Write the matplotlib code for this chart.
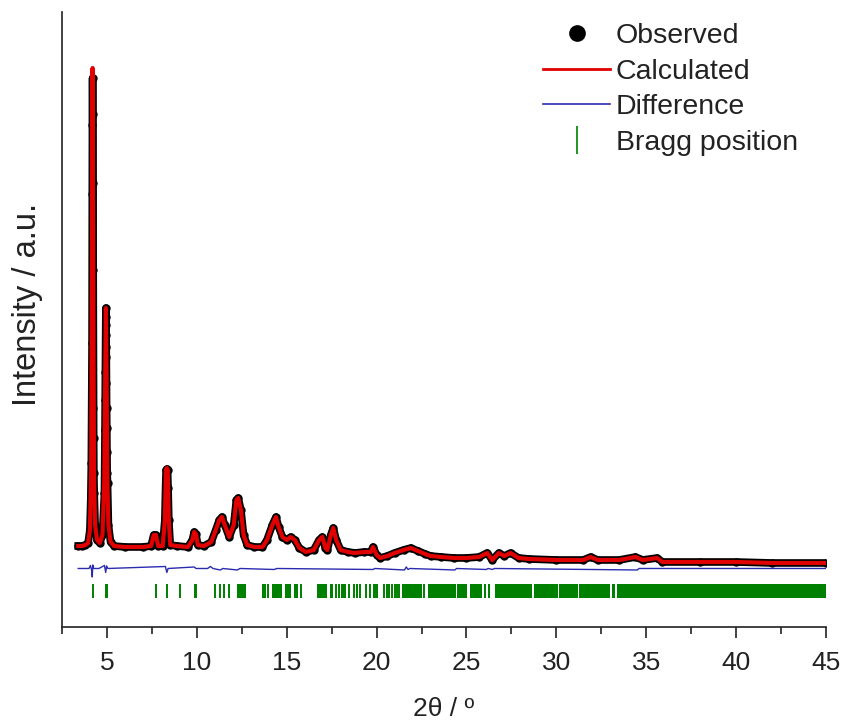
import matplotlib
matplotlib.use("Agg")
import matplotlib.pyplot as plt
from matplotlib.lines import Line2D

plt.rcParams['font.family'] = ['Liberation Sans', 'DejaVu Sans']

# ---- calculated profile (2theta, intensity a.u.) ----
calc_2theta = [3.40, 3.60, 3.80, 3.95, 4.05, 4.12, 4.16, 4.20, 4.24, 4.28, 4.34, 4.45, 4.60,
               4.75, 4.85, 4.90, 4.94, 4.98, 5.02, 5.08, 5.20, 5.40, 6.00, 7.00, 7.45, 7.60,
               7.72, 7.85, 8.10, 8.22, 8.28, 8.33, 8.38, 8.44, 8.52, 8.90, 9.50, 9.75, 9.85,
               9.95, 10.05, 10.40, 10.80, 11.05, 11.25, 11.40, 11.55, 11.80, 12.05, 12.20,
               12.30, 12.45, 12.60, 12.80, 13.20, 13.65, 13.90, 14.20, 14.40, 14.55, 14.76,
               15.00, 15.22, 15.45, 15.70, 16.06, 16.50, 16.80, 16.98, 17.15, 17.26, 17.45,
               17.59, 17.75, 18.00, 18.40, 18.80, 19.30, 19.67, 19.80, 20.00, 20.20, 20.60,
               21.00, 21.50, 21.90, 22.30, 22.70, 23.00, 23.60, 24.30, 25.00, 25.70, 26.15,
               26.43, 26.80, 27.10, 27.45, 27.90, 28.50, 30.00, 31.50, 31.90, 32.30, 33.50,
               34.40, 34.80, 35.60, 35.90, 38.00, 40.00, 42.00, 45.00]
calc_int = [1040, 1040, 1060, 1100, 1360, 2560, 5960, 10600, 5960, 2360, 1460, 1160, 1100,
            1260, 2360, 4360, 5800, 4360, 2360, 1460, 1120, 1040, 1020, 1020, 1040, 1260,
            1260, 1040, 1040, 1560, 2560, 2600, 2560, 1560, 1060, 1040, 1020, 1160, 1320,
            1280, 1060, 1040, 1120, 1360, 1560, 1620, 1460, 1220, 1460, 1960,
            2000, 1760, 1260, 1060, 1020, 1020, 1160, 1460, 1620, 1420, 1220,
            1160, 1220, 1160, 1000, 920, 960, 1160, 1220, 1000, 960, 1260,
            1400, 1160, 960, 920, 900, 920, 920, 1020, 860, 800, 840,
            900, 960, 1000, 940, 880, 840, 820, 800, 800, 820, 900,
            760, 900, 840, 900, 800, 780, 760, 760, 820, 760, 760,
            820, 760, 800, 720, 720, 720, 700, 700]

# ---- observed points (2theta, intensity a.u.) ----
obs_2theta = [3.40, 3.60, 3.80, 3.95, 4.05, 4.10, 4.13, 4.15, 4.17, 4.18, 4.19, 4.20, 4.21,
              4.22, 4.23, 4.25, 4.26, 4.27, 4.29, 4.34, 4.45, 4.60, 4.75, 4.86, 4.875, 4.89,
              4.90, 4.91, 4.92, 4.93, 4.94, 4.95, 4.955, 4.96, 4.97, 4.98, 4.99, 5.00, 5.01,
              5.03, 5.08, 5.20, 5.40, 6.00, 7.00, 7.45, 7.60, 7.72, 7.85, 8.10, 8.22, 8.26,
              8.29, 8.33, 8.37, 8.40, 8.44, 8.52, 8.90, 9.50, 9.75, 9.85, 9.95, 10.05, 10.40,
              10.80, 11.05, 11.25, 11.40, 11.55, 11.80, 12.05, 12.20, 12.30, 12.45, 12.60,
              12.80, 13.20, 13.65, 13.90, 14.20, 14.40, 14.55, 14.76, 15.00, 15.22, 15.45,
              15.70, 16.06, 16.50, 16.80, 16.98, 17.15, 17.26, 17.45, 17.59, 17.75, 18.00,
              18.40, 18.80, 19.30, 19.67, 19.80, 20.00, 20.20, 20.60, 21.00, 21.50, 21.90,
              22.30, 22.70, 23.00, 23.60, 24.30, 25.00, 25.70, 26.15, 26.43, 26.80, 27.10,
              27.45, 27.90, 28.50, 30.00, 31.50, 31.90, 32.30, 33.50, 34.40, 34.80, 35.60,
              35.90, 38.00, 40.00, 42.00, 45.00]
obs_int = [1040, 1040, 1060, 1100, 1360, 1980, 2700, 3960, 5100, 8080, 9460, 10400, 9680,
           8300, 6560, 3800, 3200, 2500, 2100, 1460, 1160, 1100, 1260, 2100, 2660, 3360,
           3960, 4520, 5020, 5460, 5800, 5620, 5260, 4820, 4300, 3800, 3400, 2920, 2500,
           2300, 1460, 1120, 1040, 1020, 1020, 1040, 1260, 1260, 1040, 1040, 1560, 2200,
           2560, 2580, 2560, 2200, 1560, 1060, 1040, 1020, 1160, 1320, 1280, 1060, 1040,
           1120, 1360, 1560, 1620, 1460, 1220, 1460, 1960, 2000, 1760, 1260,
           1060, 1020, 1020, 1160, 1460, 1620, 1420, 1220, 1160, 1220, 1160,
           1000, 920, 960, 1160, 1220, 1000, 960, 1260, 1400, 1160, 960,
           920, 900, 920, 920, 1020, 860, 800, 840, 900, 960, 1000,
           940, 880, 840, 820, 800, 800, 820, 900, 760, 900, 840,
           900, 800, 780, 760, 760, 820, 760, 760, 820, 760, 800,
           720, 720, 720, 700, 700]

# ---- difference curve (obs - calc), plotted with an offset ----
diff_2theta = [3.40, 4.00, 4.08, 4.15, 4.18, 4.21, 4.26, 4.55, 4.86, 4.93, 4.98, 5.05, 8.25,
               8.33, 8.40, 9.85, 9.95, 10.60, 10.75, 10.90, 11.30, 11.45, 12.25, 12.40, 14.30,
               14.45, 19.80, 19.90, 21.55, 21.65, 21.75, 21.85, 24.35, 24.45, 26.10, 26.20,
               26.45, 26.55, 34.50, 34.60, 45.00]
diff_int = [0, 0, 60, -40, -170, 70, 0, 0, 60, -80, 50, 0, 40,
            -80, 0, 30, 0, 0, 40, 0, -30, 0, -30, 0, -20,
            0, -20, 0, -30, 30, -20, 0, -30, 0, -20, 0,
            -20, 0, -30, 0, 0]
diff_offset = 590

# ---- Bragg positions: single reflections and densely packed ranges ----
bragg_single = [4.20, 4.96, 5.00, 7.72, 8.33, 9.07, 9.88, 9.93, 11.02, 11.30, 11.52, 11.80,
                13.96, 15.78, 17.72, 17.90, 18.10, 18.46, 18.74, 19.07, 19.43, 19.63, 20.40,
                20.55, 20.70, 20.85, 21.00, 21.13, 21.26, 22.63]
bragg_ranges = [(12.26, 12.72), (13.60, 13.83), (14.20, 14.76), (14.89, 15.22), (15.40, 15.63),
                (16.70, 17.26), (17.40, 17.56), (18.00, 18.28), (18.83, 18.96), (19.80, 20.05),
                (21.43, 22.54), (22.85, 24.39), (24.48, 25.04), (25.22, 25.87), (25.96, 26.06),
                (26.18, 26.33), (26.61, 28.62), (28.75, 30.07), (30.17, 31.18), (31.28, 32.98),
                (33.09, 33.28), (33.40, 45.00)]
bragg_low, bragg_high = 0, 280

xticks = [5, 10, 15, 20, 25, 30, 35, 40, 45]
minor_xticks = [2.5, 7.5, 12.5, 17.5, 22.5, 27.5, 32.5, 37.5, 42.5]

RED = '#e00000'
BLUE = '#2b2bb0'
GREEN = '#008000'
INK = '#222222'

fig = plt.figure(figsize=(8.44, 7.24), dpi=100)
ax = fig.add_axes([0.0735, 0.134, 0.9052, 0.8494])

# observed: dense dots -> black band
ax.plot(obs_2theta, obs_int, color='black', lw=5.5, solid_joinstyle='round', zorder=2)
ax.plot(obs_2theta, obs_int, 'o', color='black', ms=5, zorder=2)
# calculated
ax.plot(calc_2theta, calc_int, color=RED, lw=3, zorder=3)
# difference
ax.plot(diff_2theta, [d + diff_offset for d in diff_int], color=BLUE, lw=1.0, zorder=3)
# Bragg positions
ax.vlines(bragg_single, bragg_low, bragg_high, color=GREEN, lw=1.4)
ax.broken_barh([(a, b - a) for a, b in bragg_ranges], (bragg_low, bragg_high - bragg_low),
               facecolor=GREEN, edgecolor='none')

ax.set_xlim(2.5, 45)
ax.set_ylim(-580, 11720)
ax.set_xticks(xticks)
ax.set_xticks(minor_xticks, minor=True)
ax.set_yticks([])
for s in ['top', 'right']:
    ax.spines[s].set_visible(False)
for s in ['left', 'bottom']:
    ax.spines[s].set_linewidth(1.2)
    ax.spines[s].set_color(INK)
ax.tick_params(axis='x', which='major', length=8, width=1.2, labelsize=19, pad=9,
               color=INK, labelcolor=INK)
ax.tick_params(axis='x', which='minor', length=5, width=1.2, color=INK)
ax.set_xlabel('2θ / º', fontsize=19, labelpad=16, color=INK)
ax.set_ylabel('Intensity / a.u.', fontsize=23.5, color=INK)
ax.yaxis.set_label_coords(-0.025, 0.524)

handles = [
    Line2D([], [], ls='none', marker='o', color='black', ms=11),
    Line2D([], [], color=RED, lw=2),
    Line2D([], [], color=BLUE, lw=1.2),
    Line2D([], [], ls='none', marker='|', color=GREEN, ms=20, mew=1.2),
]
labels = ['Observed', 'Calculated', 'Difference', 'Bragg position']
leg = ax.legend(handles, labels, loc='upper left', bbox_to_anchor=(0.615, 1.0),
                frameon=False, fontsize=20.5, handlelength=2.35, handletextpad=0.2,
                labelspacing=0.33, borderaxespad=0.0)
for t in leg.get_texts():
    t.set_color(INK)

fig.savefig('out.png', dpi=100)
